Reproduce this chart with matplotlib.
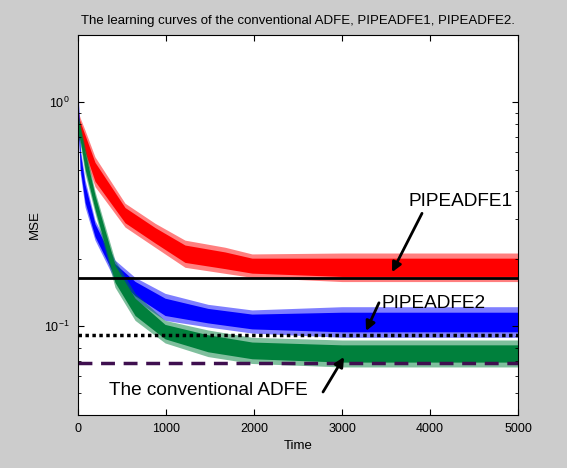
import numpy as np
import matplotlib
matplotlib.use('Agg')
import matplotlib.pyplot as plt

plt.rcParams['font.family'] = ['Liberation Sans', 'DejaVu Sans']

# learning curve bands (time, lower edge, upper edge)
t_red = [0, 25, 80, 193, 534, 875, 1216, 1670, 1977, 3000, 5000]
red_lo = [0.68, 0.68, 0.57, 0.42, 0.277, 0.225, 0.183, 0.172, 0.165, 0.158, 0.158]
red_hi = [0.92, 0.85, 0.75, 0.57, 0.354, 0.288, 0.242, 0.225, 0.210, 0.212, 0.212]

t_blue = [0, 25, 80, 193, 420, 648, 989, 1477, 1977, 3000, 5000]
blue_lo = [0.80, 0.48, 0.34, 0.242, 0.160, 0.131, 0.106, 0.099, 0.093, 0.089, 0.089]
blue_hi = [1.20, 0.63, 0.45, 0.297, 0.197, 0.165, 0.140, 0.125, 0.118, 0.122, 0.122]

t_green = [0, 25, 80, 193, 420, 648, 989, 1477, 1977, 3000, 5000]
green_lo = [0.70, 0.65, 0.48, 0.32, 0.149, 0.106, 0.084, 0.073, 0.068, 0.0656, 0.0656]
green_hi = [0.89, 0.80, 0.63, 0.40, 0.197, 0.140, 0.106, 0.096, 0.089, 0.0866, 0.0866]

# steady-state reference levels
level_pipe1 = 0.164
level_pipe2 = 0.091
level_conv = 0.068

fig = plt.figure(figsize=(5.67, 4.68), dpi=100, facecolor='#cccccc')
ax = fig.add_axes([0.1376, 0.1132, 0.776, 0.812])
ax.set_facecolor('white')

curves = [
    (t_red, red_lo, red_hi, '#ff0000'),
    (t_blue, blue_lo, blue_hi, '#0000ff'),
    (t_green, green_lo, green_hi, '#00803c'),
]
for t, lo, hi, c in curves:
    lo = np.array(lo)
    hi = np.array(hi)
    # light outer band for the spikes, solid core inside
    ax.fill_between(t, lo, hi, color=c, alpha=0.5, lw=0)
    ax.fill_between(t, lo * (hi / lo) ** 0.18, hi * (lo / hi) ** 0.18, color=c, lw=0)

ax.axhline(level_pipe1, color='black', lw=2)
ax.axhline(level_pipe2, color='black', lw=2.5, ls=(0, (1, 1)))
ax.axhline(level_conv, color='#3f0f4f', lw=2.5, ls=(0, (4, 2.5)))

ax.set_yscale('log')
ax.set_xlim(0, 5000)
ax.set_ylim(0.04, 2.0)
ax.set_xticks([0, 1000, 2000, 3000, 4000, 5000])

ax.tick_params(which='both', direction='in', top=True, right=True, labelsize=9)
ax.tick_params(which='major', length=4, pad=6)
ax.tick_params(which='minor', length=2.5)
for s in ax.spines.values():
    s.set_linewidth(0.8)

ax.set_title('The learning curves of the conventional ADFE, PIPEADFE1, PIPEADFE2.',
             fontsize=9.5, pad=8)
ax.set_xlabel('Time', fontsize=9.5, labelpad=3)
ax.set_ylabel('MSE', fontsize=9.5, labelpad=2)

arrow = dict(arrowstyle='-|>', color='black', lw=2, mutation_scale=14,
             shrinkA=0, shrinkB=0)
ax.annotate('', xy=(3568, 0.174), xytext=(3909, 0.319), arrowprops=arrow)
ax.text(3760, 0.36, 'PIPEADFE1', fontsize=13.7, ha='left', va='center')
ax.annotate('', xy=(3273, 0.095), xytext=(3420, 0.127), arrowprops=arrow)
ax.text(3450, 0.126, 'PIPEADFE2', fontsize=13.7, ha='left', va='center')
ax.annotate('', xy=(3023, 0.0727), xytext=(2784, 0.0507), arrowprops=arrow)
ax.text(350, 0.0515, 'The conventional ADFE', fontsize=13.7, ha='left', va='center')

fig.savefig('out.png', dpi=100, facecolor=fig.get_facecolor())
